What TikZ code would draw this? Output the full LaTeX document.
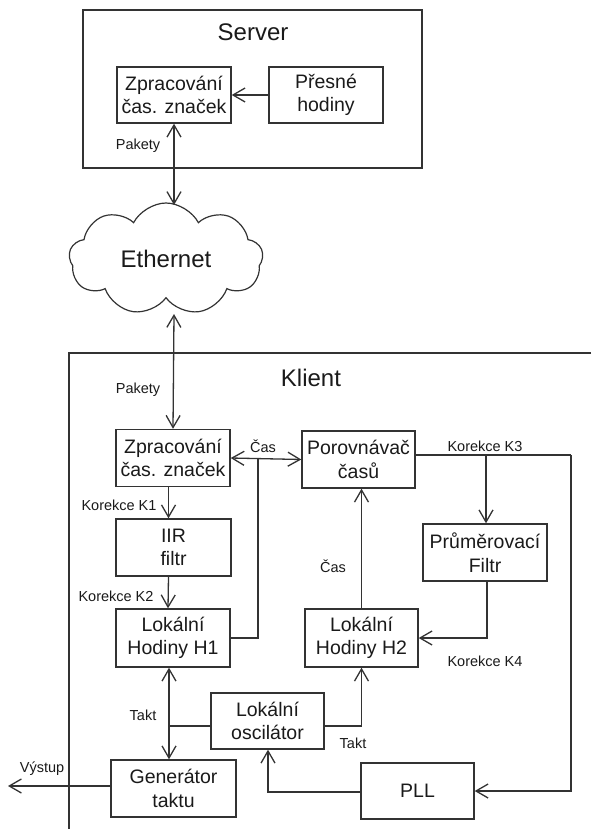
\documentclass[tikz,border=0pt]{standalone}
\usepackage{fontspec}
\setmainfont{Liberation Sans}
\usetikzlibrary{arrows.meta,shapes.symbols}
\definecolor{ln}{HTML}{333333}
\definecolor{tx}{HTML}{1A1A1A}
\tikzset{
  blk/.style={draw=ln, line width=1.4pt, inner sep=0pt, align=center, text=tx,
    font=\fontsize{19.5}{23.5}\selectfont},
  lbl/.style={text=tx, inner sep=0pt, font=\fontsize{14.5}{16}\selectfont},
  ttl/.style={text=tx, inner sep=0pt, font=\fontsize{24}{28}\selectfont},
  con/.style={draw=ln, line width=1.3pt},
  tip/.tip={Straight Barb[angle=60:14pt,line width=1.3pt]},
  arr/.style={con, -tip},
  darr/.style={con, tip-tip}
}
\begin{document}
\begin{tikzpicture}[x=1pt,y=-1pt]
\useasboundingbox (0,0) rectangle (591,829);
% Server
\draw[con, line width=1.4pt] (83,10) rectangle (422,168);
\node[ttl] (srv) at (253,32) {Server};
\node[blk, minimum width=114pt, minimum height=56pt] (zs) at (174,95) {Zpracování\\čas. značek};
\node[blk, minimum width=114pt, minimum height=56pt] (ph) at (326,95) {Přesné\\hodiny};
\draw[arr] (ph.west) -- (zs.east);
\node[lbl] (pak1) at (138,146) {Pakety};
% Cloud
\node[cloud, cloud puffs=9, cloud puff arc=125, aspect=1.75, draw=ln, line width=1.2pt, minimum width=194pt, minimum height=112pt, inner sep=0pt, text=tx, font=\fontsize{24}{28}\selectfont] (eth) at (166,259) {Ethernet};
\coordinate (ethT) at (174,205);
\coordinate (ethB) at (174,314);
\draw[darr] (zs.south) -- (ethT);
% Klient frame
\draw[con, line width=1.4pt] (591,353) -- (69,353) -- (69,829);
\node[ttl] (kli) at (311,378) {Klient};
\node[lbl] (pak2) at (138,390) {Pakety};
\node[blk, minimum width=114pt, minimum height=57pt] (zc) at (173,458) {Zpracování\\čas. značek};
\draw[darr] (ethB) -- (zc.north);
\node[blk, minimum width=113pt, minimum height=57pt] (por) at (358.5,459.5) {Porovnávač\\časů};
\node[lbl] (cas1) at (263,446) {Čas};
\draw[darr] (zc.east) -- (por.west);
\node[blk, minimum width=115pt, minimum height=57pt] (iir) at (173.5,547.5) {IIR\\filtr};
\node[blk, minimum width=114pt, minimum height=58pt] (h1) at (173,638) {Lokální\\Hodiny H1};
\node[lbl] (k1) at (119,505) {Korekce K1};
\node[lbl] (k2) at (116,596) {Korekce K2};
\draw[arr] ([xshift=-4.5pt]zc.south) -- ([xshift=-5pt]iir.north);
\draw[arr] ([xshift=-5pt]iir.south) -- ([xshift=-5pt]h1.north);
\coordinate (j1) at (258,459);
\draw[con] (j1) -- (j1 |- h1.east) -- (h1.east);
% right part
\node[blk, minimum width=124pt, minimum height=57pt] (pm) at (485,552.5) {Průměrovací\\Filtr};
\node[blk, minimum width=113pt, minimum height=58pt] (h2) at (361.5,638) {Lokální\\Hodiny H2};
\node[lbl] (k3) at (485,446) {Korekce K3};
\node[lbl] (k4) at (485,661) {Korekce K4};
\node[lbl] (cas2) at (333,566) {Čas};
\coordinate (pe) at ([yshift=4.5pt]por.east);
\coordinate (rr) at (571,455);
\coordinate (br) at (486,455);
\draw[arr] (br) -- (br |- pm.north);
\draw[arr] ([xshift=2pt]pm.south) -- ([xshift=2pt]pm.south |- h2.east) -- (h2.east);
\draw[arr] (h2.north) -- (h2.north |- por.south);
% bottom
\node[blk, minimum width=113pt, minimum height=56pt] (osc) at (267.5,721) {Lokální\\oscilátor};
\node[blk, minimum width=125pt, minimum height=57pt] (gen) at (173.5,788.5) {Generátor\\taktu};
\node[blk, minimum width=113pt, minimum height=56pt] (pll) at (417.5,791) {PLL};
\node[lbl] (t1) at (143,715) {Takt};
\node[lbl] (t2) at (353,743) {Takt};
\node[lbl] (vys) at (42,769) {Výstup};
\coordinate (out) at (8,786);
\coordinate (oe) at ([yshift=-5pt]osc.east);
\coordinate (ow) at ([yshift=-5pt]osc.west);
\coordinate (pw) at ([yshift=-1pt]pll.west);
\coordinate (oj) at (169,726);
\draw[con] (pe) -- (rr);
\draw[arr] (rr) -- (rr |- pll.east) -- (pll.east);
\draw[darr] ([xshift=-4pt]h1.south) -- ([xshift=-4.5pt]gen.north);
\draw[con] (ow) -- (oj);
\draw[arr] (oe) -- (oe -| h2.south) -- (h2.south);
\draw[arr] (pw) -- ([xshift=0.5pt]pw -| osc.south) -- ([xshift=0.5pt]osc.south);
\draw[arr] ([yshift=2.5pt]gen.west) -- (out);
\end{tikzpicture}
\end{document}
